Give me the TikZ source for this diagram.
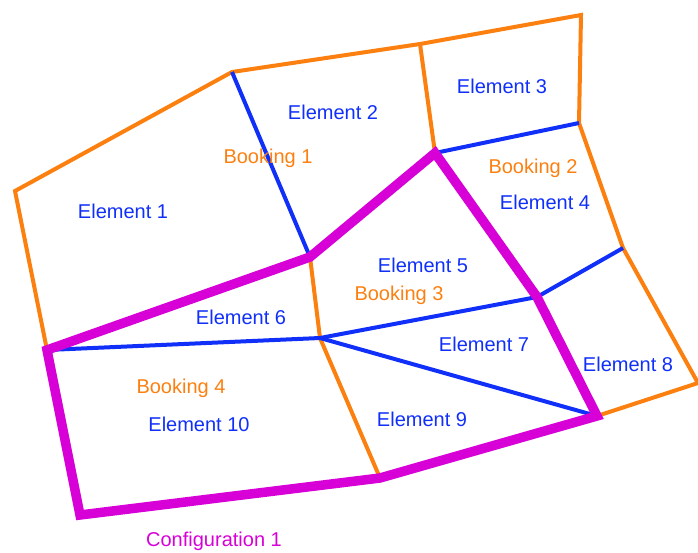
\documentclass[tikz,border=0pt]{standalone}
\usepackage{fontspec}
\setmainfont{Liberation Sans}
\definecolor{orng}{RGB}{252,128,16}
\definecolor{blu}{RGB}{16,48,250}
\definecolor{mag}{RGB}{215,0,215}
\begin{document}
\begin{tikzpicture}[x=1pt,y=-1pt,
  oedge/.style={draw=orng,line width=4pt,line join=miter},
  bedge/.style={draw=blu,line width=4pt},
  medge/.style={draw=mag,line width=9.5pt,line join=miter},
  elabel/.style={text=blu,font=\fontsize{20}{24}\selectfont,inner sep=0pt},
  olabel/.style={text=orng,font=\fontsize{20}{24}\selectfont,inner sep=0pt},
  mlabel/.style={text=mag,font=\fontsize{20}{24}\selectfont,inner sep=0pt}]
\useasboundingbox (0,0) rectangle (698,552);
\coordinate (A) at (15,191);
\coordinate (B) at (232,72);
\coordinate (C) at (420,44);
\coordinate (D) at (581,15);
\coordinate (E) at (579,123);
\coordinate (F) at (623,248);
\coordinate (G) at (698,383);
\coordinate (H) at (597,416);
\coordinate (I) at (380,478);
\coordinate (J) at (80,515);
\coordinate (K) at (47,350);
\coordinate (L) at (435,153);
\coordinate (M) at (310,257);
\coordinate (N) at (537,297);
\coordinate (O) at (320,338);
% orange edges
\draw[oedge] (K) -- (A) -- (B) -- (C) -- (D) -- (E) -- (F) -- (G) -- (H);
\draw[oedge] (C) -- (L);
\draw[oedge] (M) -- (O) -- (I);
% blue edges
\draw[bedge] (B) -- (M);
\draw[bedge] (L) -- (E);
\draw[bedge] (K) -- (O);
\draw[bedge] (O) -- (N) -- (F);
\draw[bedge] (O) -- (H);
% magenta configuration
\draw[medge] (M) -- (K) -- (J) -- (I) -- (H) -- (N) -- (L) -- cycle;
% labels
\node[elabel] (e1) at (123,211) {Element 1};
\node[elabel] (e2) at (333,112) {Element 2};
\node[olabel] (b1) at (268,158) {Booking 1};
\node[elabel] (e3) at (502,86) {Element 3};
\node[olabel] (b2) at (533,168) {Booking 2};
\node[elabel] (e4) at (545,202) {Element 4};
\node[elabel] (e5) at (423,265) {Element 5};
\node[olabel] (b3) at (399,295) {Booking 3};
\node[elabel] (e6) at (241,317) {Element 6};
\node[elabel] (e7) at (484,344) {Element 7};
\node[elabel] (e8) at (628,364) {Element 8};
\node[elabel] (e9) at (422,419) {Element 9};
\node[olabel] (b4) at (181,388) {Booking 4};
\node[elabel] (e10) at (199,424) {Element 10};
\node[mlabel] (c1) at (214,541) {Configuration 1};
\end{tikzpicture}
\end{document}
